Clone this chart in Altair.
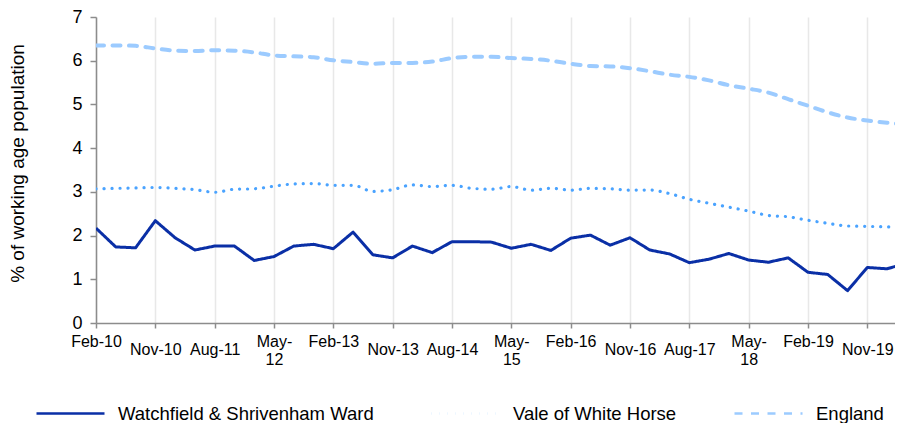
import altair as alt
import pandas as pd

QUARTERS = ["Feb-10", "May-10", "Aug-10", "Nov-10", "Feb-11", "May-11", "Aug-11", "Nov-11",
            "Feb-12", "May-12", "Aug-12", "Nov-12", "Feb-13", "May-13", "Aug-13", "Nov-13",
            "Feb-14", "May-14", "Aug-14", "Nov-14", "Feb-15", "May-15", "Aug-15", "Nov-15",
            "Feb-16", "May-16", "Aug-16", "Nov-16", "Feb-17", "May-17", "Aug-17", "Nov-17",
            "Feb-18", "May-18", "Aug-18", "Nov-18", "Feb-19", "May-19", "Aug-19", "Nov-19",
            "Feb-20", "May-20"]

WARD = [2.17, 1.74, 1.72, 2.34, 1.95, 1.67, 1.76, 1.76, 1.43, 1.52, 1.76, 1.80,
        1.70, 2.08, 1.56, 1.49, 1.76, 1.61, 1.86, 1.86, 1.85, 1.71, 1.80, 1.66,
        1.94, 2.01, 1.78, 1.95, 1.67, 1.58, 1.38, 1.46, 1.59, 1.44, 1.39, 1.49,
        1.16, 1.11, 0.74, 1.27, 1.24, 1.37]

VALE = [3.07, 3.08, 3.09, 3.10, 3.08, 3.05, 2.99, 3.06, 3.07, 3.13, 3.18, 3.19,
        3.15, 3.15, 3.01, 3.05, 3.16, 3.12, 3.15, 3.08, 3.06, 3.12, 3.04, 3.08,
        3.04, 3.08, 3.07, 3.04, 3.04, 2.96, 2.83, 2.74, 2.65, 2.56, 2.46, 2.43,
        2.35, 2.28, 2.22, 2.21, 2.20, 2.19]

ENGLAND = [6.35, 6.35, 6.34, 6.28, 6.23, 6.22, 6.24, 6.23, 6.19, 6.12, 6.10, 6.08,
           6.01, 5.97, 5.93, 5.95, 5.95, 5.98, 6.06, 6.09, 6.09, 6.06, 6.04, 6.00,
           5.93, 5.88, 5.87, 5.83, 5.76, 5.68, 5.63, 5.55, 5.44, 5.36, 5.27, 5.12,
           4.97, 4.82, 4.70, 4.63, 4.58, 4.54]

SERIES = ["Watchfield & Shrivenham Ward", "Vale of White Horse", "England"]
COLORS = ["#0a2fa6", "#4aa3ff", "#9ccbff"]
DASHES = [[1, 0], [0.1, 7.9], [8, 8.5]]

TICK_LABELS = ["Feb-10", "Nov-10", "Aug-11", "May-12", "Feb-13", "Nov-13", "Aug-14",
               "May-15", "Feb-16", "Nov-16", "Aug-17", "May-18", "Feb-19", "Nov-19"]

rows = []
for name, vals in zip(SERIES, [WARD, VALE, ENGLAND]):
    for i, (q, v) in enumerate(zip(QUARTERS, vals)):
        rows.append({"idx": i, "quarter": q, "series": name, "value": v})
df = pd.DataFrame(rows)

parts = []
for lab in TICK_LABELS:
    if lab.startswith("May"):
        parts.append("['%s','%s']" % (lab[:4], lab[4:]))
    else:
        parts.append("'%s'" % lab)
label_expr = "[" + ",".join(parts) + "][round(datum.value/3)]"

FONT = "Liberation Sans"
GRAY = "#8c8c8c"

x_axis = alt.Axis(
    values=list(range(0, 40, 3)), labelExpr=label_expr, grid=True,
    gridColor="#e8e8e8", gridWidth=1.5, domainColor=GRAY, domainWidth=1.5,
    tickColor=GRAY, tickSize=5, tickWidth=1.5, labelFont=FONT, labelFontSize=16,
    labelColor="#000000", labelBaseline="top", labelLineHeight=18,
    labelPadding={"condition": {"test": "datum.value % 12 == 3 || datum.value % 12 == 6", "value": 13}, "value": 5},
    labelOverlap=False, labelBound=False, labelFlush=False, title=None,
)
y_axis = alt.Axis(
    values=list(range(0, 8)), grid=False, domainColor=GRAY, domainWidth=1.5,
    tickColor=GRAY, tickSize=6, tickWidth=1.5, labelFont=FONT, labelFontSize=18,
    labelColor="#000000", labelPadding=8, title="% of working age population",
    titleFont=FONT, titleFontSize=19, titleFontWeight="normal", titleColor="#000000",
    titlePadding=44, titleY=146,
)
legend = alt.Legend(
    orient="none", legendX=-61, legendY=361, direction="horizontal",
    symbolType="stroke", symbolSize=68 * 68, symbolStrokeWidth=2.5,
    labelFont=FONT, labelFontSize=18.5, labelColor="#000000", labelLimit=500,
    labelOffset=12, columnPadding=52, gridAlign="none", title=None,
)

base = alt.Chart(df).encode(
    x=alt.X("idx:Q", scale=alt.Scale(domain=[0, 40.4], nice=False, zero=False), axis=x_axis),
    y=alt.Y("value:Q", scale=alt.Scale(domain=[0, 7], nice=False), axis=y_axis),
    color=alt.Color("series:N", scale=alt.Scale(domain=SERIES, range=COLORS), legend=legend),
    strokeDash=alt.StrokeDash("series:N", scale=alt.Scale(domain=SERIES, range=DASHES), legend=legend),
    order="idx:Q",
)

england = base.transform_filter(alt.datum.series == "England").mark_line(
    strokeWidth=4, strokeCap="round", interpolate="monotone", clip=True)
vale = base.transform_filter(alt.datum.series == "Vale of White Horse").mark_line(
    strokeWidth=3.2, strokeCap="round", interpolate="monotone", clip=True)
ward = base.transform_filter(alt.datum.series == "Watchfield & Shrivenham Ward").mark_line(
    strokeWidth=3, strokeJoin="round", clip=True)

chart = alt.layer(england, vale, ward).properties(
    width=799, height=306,
    autosize=alt.AutoSizeParams(type="none"),
    padding={"left": 88, "top": 9, "right": 0, "bottom": 100},
    background="#ffffff",
).configure_view(strokeWidth=0)

chart.save("out.html", embed_options={"renderer": "svg", "actions": False})
